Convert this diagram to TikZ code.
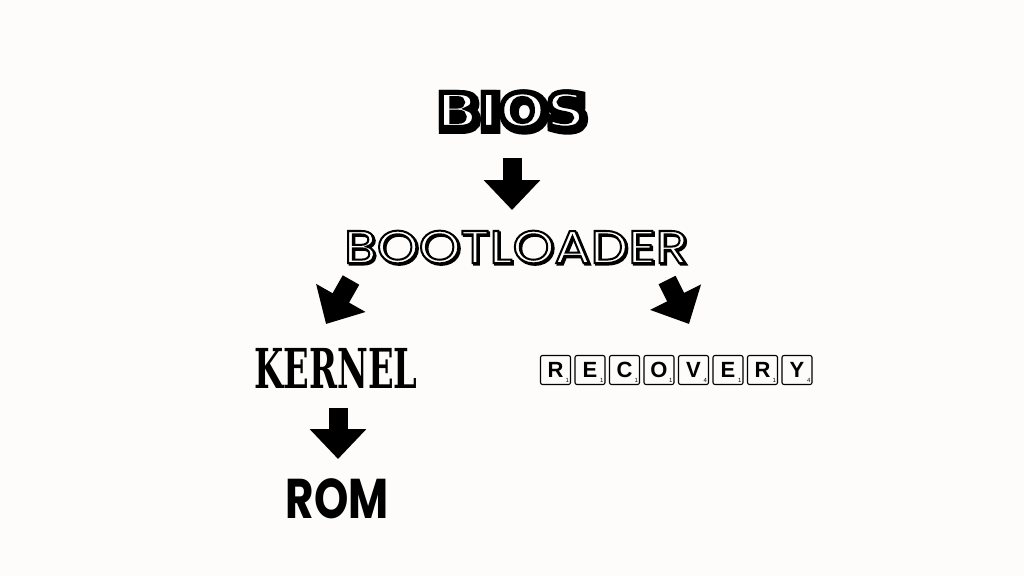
\documentclass[tikz,border=0pt]{standalone}
\usepackage{fontspec}
\usetikzlibrary{arrows.meta}

\newfontfamily\biosfont{DejaVu Sans}[FakeStretch=1.15]
\newfontfamily\bootfont{Poppins}[FakeStretch=1.16]
\newfontfamily\kernelfont{DejaVu Serif Condensed}[FakeStretch=0.68]
\newfontfamily\romfont{Poppins}[FakeStretch=0.78]
\newfontfamily\tilefont{Liberation Sans}
\definecolor{paper}{RGB}{253,252,250}
% outlined letters: white fill, black stroke of width #1
\newcommand\outlined[2]{{\color{white}\special{pdf:literal direct #1 w 0 G 2 Tr}#2\special{pdf:literal direct 0 Tr}}}
\newcommand\solidout[2]{{\special{pdf:literal direct #1 w 0 G 2 Tr}#2\special{pdf:literal direct 0 Tr}}}

\begin{document}
\begin{tikzpicture}[x=1pt, y=-1pt,
  blockarrow/.style={line width=19pt, -{Triangle[length=30pt,width=55pt]}},
  biostext/.style={font=\biosfont\bfseries\fontsize{48}{48}\selectfont},
  boottext/.style={font=\bootfont\fontsize{46}{46}\selectfont},
  tile/.style={draw, rounded corners=2pt, line width=1.1pt, minimum width=30pt, minimum height=29pt,
    inner sep=0pt, font=\tilefont\bfseries\fontsize{22}{22}\selectfont},
  score/.style={inner sep=0pt, font=\tilefont\fontsize{6}{6}\selectfont}]

  %% ==== canvas ====
  \fill[paper] (0,0) rectangle (1024,576);

  %% ==== BIOS (shadow + outlined letters) ====
  \node[biostext] at (513,112) {\solidout{9}{BIOS}};
  \node[biostext] (bios) at (511,110) {\outlined{5}{BIOS}};

  %% ==== BOOTLOADER ====
  \node[boottext] at (517.5,248.5) {\solidout{2}{BOOTLOADER}};
  \node[boottext] (boot) at (516,247) {\outlined{2}{BOOTLOADER}};

  %% ==== KERNEL / ROM ====
  \node[font=\kernelfont\bfseries\fontsize{55}{55}\selectfont] (kernel) at (336,368) {KERNEL};
  \node[font=\romfont\bfseries\fontsize{56}{56}\selectfont] (rom) at (337,499) {ROM};

  %% ==== RECOVERY tiles ====
  \foreach \ch/\pt [count=\i] in {R/1,E/1,C/1,O/1,V/4,E/1,R/1,Y/4} {
    \node[tile] (tile\i) at ({555.5+(\i-1)*34.5},370) {\ch};
    \node[score, anchor=south east] at ([xshift=-2pt,yshift=2pt]tile\i.south east) {\pt};
  }

  %% ==== block arrows ====
  \coordinate (a1top) at (512,158);
  \coordinate (a1tip) at (512,210);
  \coordinate (a2top) at (351,280);
  \coordinate (a2tip) at (326,324);
  \coordinate (a3top) at (667,280);
  \coordinate (a3tip) at (689,324);
  \coordinate (a4top) at (338,408);
  \coordinate (a4tip) at (338,459);
  \draw[blockarrow] (a1top) -- (a1tip);
  \draw[blockarrow] (a2top) -- (a2tip);
  \draw[blockarrow] (a3top) -- (a3tip);
  \draw[blockarrow] (a4top) -- (a4tip);

  \pgfresetboundingbox
  \path[use as bounding box] (0,0) rectangle (1024,576);
\end{tikzpicture}
\end{document}
